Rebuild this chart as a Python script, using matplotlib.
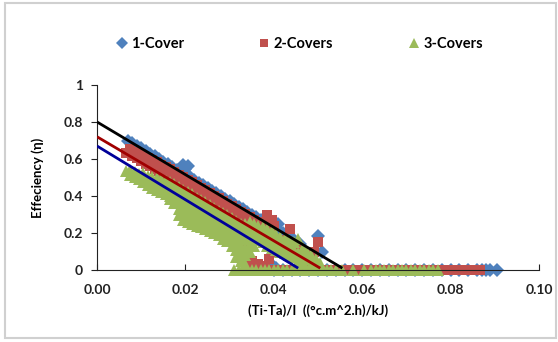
import matplotlib
matplotlib.use("Agg")
import matplotlib.pyplot as plt
from matplotlib.patches import Rectangle

plt.rcParams['font.family'] = ['Lato', 'DejaVu Sans']
plt.rcParams['font.weight'] = 'bold'

# 1-Cover measurements
x1 = [0.008, 0.009, 0.010, 0.011, 0.012, 0.013, 0.014, 0.015, 0.016, 0.017,
      0.018, 0.019, 0.020, 0.021, 0.022, 0.023, 0.024, 0.025, 0.026, 0.027,
      0.028, 0.029, 0.030, 0.031, 0.032, 0.033, 0.034, 0.035, 0.036, 0.037,
      0.038, 0.039, 0.040, 0.041, 0.042, 0.043, 0.044,
      0.0070, 0.0195, 0.0205, 0.0200, 0.0410, 0.0500, 0.0510, 0.0460, 0.0395, 0.0405,
      0.040, 0.042, 0.044, 0.046, 0.048, 0.050, 0.052, 0.054, 0.056, 0.058, 0.060,
      0.062, 0.064, 0.066, 0.068, 0.070, 0.072, 0.074, 0.076, 0.078, 0.080, 0.082,
      0.084, 0.086, 0.087, 0.088, 0.089, 0.0905]
y1 = [0.686, 0.671, 0.657, 0.643, 0.628, 0.614, 0.600, 0.586, 0.571, 0.557,
      0.543, 0.528, 0.514, 0.500, 0.485, 0.471, 0.457, 0.443, 0.428, 0.414,
      0.400, 0.385, 0.371, 0.357, 0.342, 0.328, 0.314, 0.300, 0.285, 0.271,
      0.257, 0.242, 0.228, 0.214, 0.199, 0.185, 0.171,
      0.695, 0.570, 0.560, 0.545, 0.250, 0.185, 0.100, 0.140, 0.025, 0.010,
      0, 0, 0, 0, 0, 0, 0, 0, 0, 0, 0,
      0, 0, 0, 0, 0, 0, 0, 0, 0, 0, 0,
      0, 0, 0, 0, 0, 0]

# 2-Covers measurements
x2 = [0.007, 0.008, 0.009, 0.010, 0.011, 0.012, 0.013, 0.014, 0.015, 0.016,
      0.017, 0.018, 0.019, 0.020, 0.021, 0.022, 0.023, 0.024, 0.025, 0.026,
      0.027, 0.028, 0.029, 0.030, 0.031, 0.032, 0.033, 0.034, 0.035, 0.036,
      0.037, 0.038, 0.039, 0.040,
      0.0065, 0.0075, 0.0085, 0.0095, 0.0105, 0.0115, 0.0125, 0.0135, 0.0145, 0.0155,
      0.0165, 0.0175, 0.0185, 0.0195, 0.0205, 0.0215, 0.0225, 0.0235, 0.0245, 0.0255,
      0.0265, 0.0275, 0.0285, 0.0295, 0.0305, 0.0315, 0.0325, 0.0335, 0.0345, 0.0355,
      0.0365, 0.0375, 0.0385, 0.0395,
      0.0375, 0.0385, 0.0395, 0.0400, 0.0410, 0.0437, 0.0420, 0.0460, 0.0490, 0.0500,
      0.0330, 0.0335, 0.0350, 0.0365, 0.0380, 0.0390,
      0.034, 0.0355, 0.037, 0.0385, 0.040, 0.0415, 0.043, 0.0445, 0.046, 0.0475, 0.049,
      0.0505, 0.052, 0.0535, 0.055, 0.0565, 0.058, 0.0595, 0.061, 0.0625, 0.064,
      0.0655, 0.067, 0.0685, 0.070, 0.0715, 0.073, 0.0745, 0.076, 0.077, 0.078,
      0.079, 0.080, 0.081, 0.082, 0.083, 0.084, 0.085, 0.086, 0.0867]
y2 = [0.632, 0.618, 0.604, 0.589, 0.575, 0.561, 0.547, 0.533, 0.519, 0.505,
      0.491, 0.477, 0.463, 0.449, 0.435, 0.421, 0.407, 0.393, 0.379, 0.364,
      0.350, 0.336, 0.322, 0.308, 0.294, 0.280, 0.266, 0.252, 0.238, 0.224,
      0.210, 0.196, 0.182, 0.168,
      0.630, 0.655, 0.640, 0.625, 0.615, 0.605, 0.595, 0.585, 0.570, 0.555,
      0.544, 0.530, 0.515, 0.501, 0.487, 0.473, 0.458, 0.444, 0.430, 0.415,
      0.401, 0.387, 0.372, 0.358, 0.344, 0.330, 0.315, 0.301, 0.287, 0.272,
      0.258, 0.244, 0.230, 0.215,
      0.260, 0.300, 0.270, 0.240, 0.100, 0.220, 0.160, 0.110, 0.100, 0.150,
      0.110, 0.070, 0.050, 0.030, 0.020, 0.060,
      0, 0, 0, 0, 0, 0, 0, 0, 0, 0, 0,
      0, 0, 0, 0, 0, 0, 0, 0, 0, 0,
      0, 0, 0, 0, 0, 0, 0, 0, 0, 0,
      0, 0, 0, 0, 0, 0, 0, 0, 0]

# 3-Covers measurements
x3 = [0.0065,
      0.0075, 0.0075,
      0.0085, 0.0085,
      0.0095, 0.0095,
      0.0105, 0.0105, 0.0105,
      0.0115, 0.0115, 0.0115,
      0.0125, 0.0125, 0.0125,
      0.0135, 0.0135, 0.0135,
      0.0145, 0.0145, 0.0145,
      0.0155, 0.0155, 0.0155,
      0.0165, 0.0165, 0.0165, 0.0165,
      0.0175, 0.0175, 0.0175, 0.0175,
      0.0185, 0.0185, 0.0185, 0.0185, 0.0185,
      0.0195, 0.0195, 0.0195, 0.0195, 0.0195,
      0.0205, 0.0205, 0.0205, 0.0205, 0.0205,
      0.0215, 0.0215, 0.0215, 0.0215, 0.0215,
      0.0225, 0.0225, 0.0225, 0.0225, 0.0225,
      0.0235, 0.0235, 0.0235, 0.0235, 0.0235,
      0.0245, 0.0245, 0.0245, 0.0245, 0.0245,
      0.0255, 0.0255, 0.0255, 0.0255, 0.0255,
      0.0265, 0.0265, 0.0265, 0.0265, 0.0265,
      0.0275, 0.0275, 0.0275, 0.0275, 0.0275,
      0.0285, 0.0285, 0.0285, 0.0285, 0.0285,
      0.0295, 0.0295, 0.0295, 0.0295, 0.0295,
      0.0305, 0.0305, 0.0305, 0.0305, 0.0305,
      0.0315, 0.0315, 0.0315, 0.0315, 0.0315, 0.0315,
      0.0325, 0.0325, 0.0325, 0.0325, 0.0325, 0.0325,
      0.0335, 0.0335, 0.0335, 0.0335, 0.0335, 0.0335,
      0.0345, 0.0345, 0.0345, 0.0345, 0.0345,
      0.0355, 0.0355, 0.0355, 0.0355,
      0.0365, 0.0365, 0.0365,
      0.0375, 0.0375, 0.0375,
      0.0385, 0.0385, 0.0385,
      0.0395, 0.0395, 0.0395,
      0.0405, 0.0405, 0.0405,
      0.0415, 0.0415, 0.0415,
      0.0425, 0.0425, 0.0425,
      0.0435, 0.0435, 0.0435,
      0.0445, 0.0445, 0.0445,
      0.0455, 0.0455, 0.0455,
      0.0465, 0.0465, 0.0465,
      0.0475, 0.0475,
      0.0485, 0.0485,
      0.0495, 0.0505,
      0.031, 0.032, 0.033, 0.034, 0.035, 0.036, 0.037, 0.038, 0.039, 0.040,
      0.041, 0.042, 0.043, 0.044, 0.045, 0.046, 0.047, 0.048, 0.049, 0.050,
      0.051, 0.052, 0.053, 0.054, 0.0555, 0.058, 0.0605, 0.062, 0.063, 0.064,
      0.065, 0.066, 0.067, 0.068, 0.069, 0.070, 0.071, 0.072, 0.073, 0.074,
      0.075, 0.076, 0.0772]
y3 = [0.535,
      0.540, 0.515,
      0.530, 0.500,
      0.520, 0.490,
      0.525, 0.490, 0.475,
      0.510, 0.475, 0.460,
      0.505, 0.470, 0.445,
      0.495, 0.460, 0.435,
      0.490, 0.455, 0.420,
      0.480, 0.445, 0.410,
      0.475, 0.440, 0.400, 0.385,
      0.465, 0.430, 0.390, 0.360,
      0.450, 0.410, 0.370, 0.330, 0.300,
      0.430, 0.390, 0.350, 0.310, 0.270,
      0.420, 0.380, 0.340, 0.300, 0.260,
      0.410, 0.370, 0.330, 0.290, 0.250,
      0.390, 0.350, 0.310, 0.270, 0.240,
      0.380, 0.340, 0.300, 0.260, 0.230,
      0.365, 0.325, 0.285, 0.245, 0.220,
      0.350, 0.310, 0.270, 0.230, 0.210,
      0.335, 0.295, 0.255, 0.220, 0.200,
      0.320, 0.280, 0.240, 0.210, 0.190,
      0.310, 0.270, 0.230, 0.190, 0.170,
      0.295, 0.255, 0.215, 0.175, 0.155,
      0.280, 0.240, 0.200, 0.160, 0.130,
      0.265, 0.225, 0.185, 0.145, 0.110, 0.070,
      0.250, 0.210, 0.170, 0.130, 0.090, 0.050,
      0.250, 0.210, 0.170, 0.120, 0.080, 0.030,
      0.260, 0.220, 0.180, 0.140, 0.100,
      0.250, 0.210, 0.170, 0.130,
      0.240, 0.200, 0.160,
      0.230, 0.190, 0.150,
      0.220, 0.180, 0.130,
      0.210, 0.160, 0.120,
      0.190, 0.150, 0.110,
      0.180, 0.140, 0.100,
      0.170, 0.130, 0.090,
      0.160, 0.120, 0.080,
      0.150, 0.110, 0.070,
      0.170, 0.090, 0.050,
      0.120, 0.080, 0.040,
      0.100, 0.060,
      0.080, 0.030,
      0.060, 0.040,
      0, 0, 0, 0, 0, 0, 0, 0, 0, 0,
      0, 0, 0, 0, 0, 0, 0, 0, 0, 0,
      0, 0, 0, 0, 0, 0, 0, 0, 0, 0,
      0, 0, 0, 0, 0, 0, 0, 0, 0, 0,
      0, 0, 0]

# linear fits drawn over the points
fit_x = {'black': [0.0, 0.0555], 'darkred': [0.0, 0.0505], 'navy': [0.0, 0.0455]}
fit_y = {'black': [0.80, 0.01], 'darkred': [0.72, 0.01], 'navy': [0.67, 0.01]}
fit_col = {'black': '#000000', 'darkred': '#A00000', 'navy': '#000099'}

fig = plt.figure(figsize=(5.58, 3.42), dpi=100)
ax = fig.add_axes([0.174, 0.2105, 0.792, 0.5410])

ax.plot(x1, y1, 'D', color='#4F81BD', ms=7, mew=0, clip_on=False, label='1-Cover')
ax.plot(x2, y2, 's', color='#C0504D', ms=7.5, mew=0, clip_on=False, label='2-Covers')
ax.plot(x3, y3, '^', color='#9BBB59', ms=9, mew=0, clip_on=False, label='3-Covers')
for k in ['navy', 'darkred', 'black']:
    ax.plot(fit_x[k], fit_y[k], color=fit_col[k], lw=2, solid_capstyle='butt', zorder=5)

ax.set_xlim(0, 0.10)
ax.set_ylim(0, 1)
ax.set_xticks([0, 0.02, 0.04, 0.06, 0.08, 0.10])
ax.set_xticklabels(['0.00', '0.02', '0.04', '0.06', '0.08', '0.10'])
ax.set_yticks([0, 0.2, 0.4, 0.6, 0.8, 1])
ax.set_yticklabels(['0', '0.2', '0.4', '0.6', '0.8', '1'])
ax.tick_params(axis='x', direction='in', length=4, pad=10, labelsize=10, colors='#222222')
ax.tick_params(axis='y', direction='out', length=4, pad=6, labelsize=10, colors='#222222')
ax.spines['top'].set_visible(False)
ax.spines['right'].set_visible(False)
ax.spines['left'].set_color('#222222')
ax.spines['bottom'].set_color('#222222')

ax.set_xlabel('(Ti-Ta)/I  ((°c.m^2.h)/kJ)', fontsize=9.5, fontweight='bold', labelpad=6)
ax.set_ylabel('Effeciency (η)', fontsize=9.5, fontweight='bold', labelpad=14)

fig.legend(loc='center', bbox_to_anchor=(0.535, 0.872), ncol=3, frameon=False,
           columnspacing=5.0, handletextpad=0.15, handlelength=1.0, markerscale=0.85,
           prop={'weight': 'bold', 'size': 10.5})

# chart frame
fig.patches.append(Rectangle((0.009, 0.012), 0.988, 0.979, transform=fig.transFigure,
                             fill=False, edgecolor='#D0D0D0', lw=1.5))

fig.savefig('out.png', dpi=100)
